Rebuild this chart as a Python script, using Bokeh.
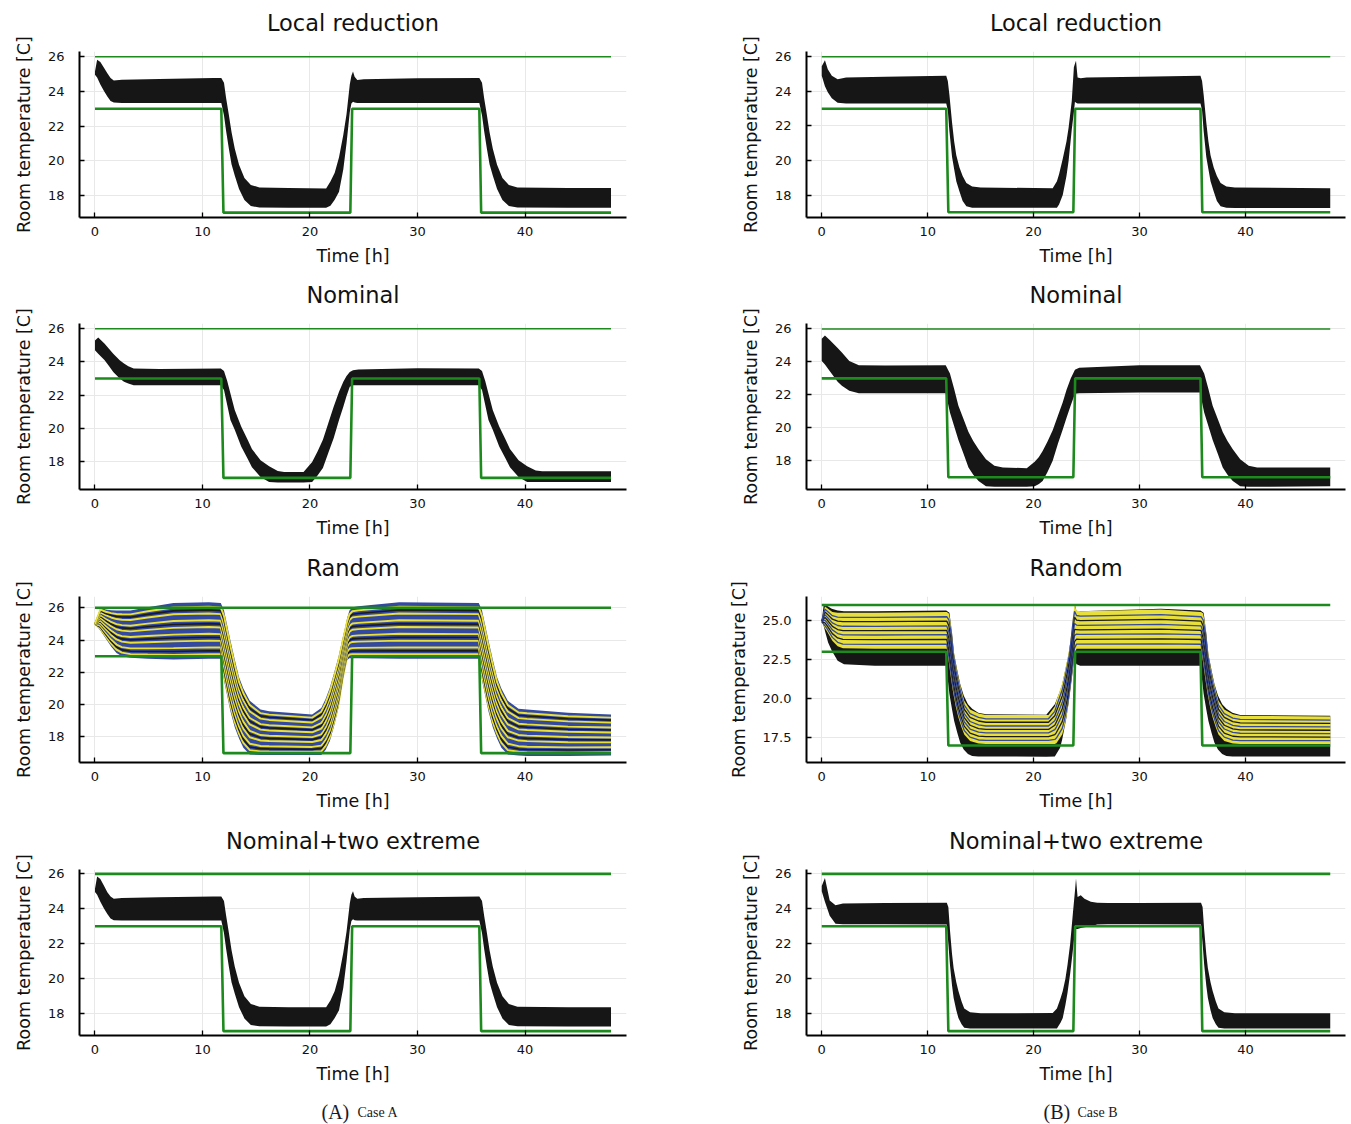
import numpy as np
from bokeh.plotting import figure
from bokeh.layouts import column, row
from bokeh.models import Label, NumeralTickFormatter
from bokeh.embed import file_html
from bokeh.resources import INLINE

# ---------------- data ----------------
TIME_TICKS = [0, 10, 20, 30, 40]
TEMP_TICKS = [18, 20, 22, 24, 26]
TEMP_TICKS_B_RANDOM = [17.5, 20.0, 22.5, 25.0]
TITLES = ["Local reduction", "Nominal", "Random", "Nominal+two extreme"]

BOUND_UPPER_T = [0, 48]
BOUND_UPPER = [26, 26]
BOUND_LOWER_T = [0, 11.75, 11.95, 23.75, 23.92, 35.75, 35.92, 48]
BOUND_LOWER = [23, 23, 17, 17, 23, 23, 17, 17]

# Case A - Local reduction (envelope of all trajectories)
A_LOCAL_T = [0, 0.2, 0.5, 0.85, 1.15, 1.45, 1.75, 2.5, 6, 11.0, 11.75,
             12.0, 12.2, 12.45, 12.7, 13.0, 13.4, 13.9, 14.5, 15.3, 18.0,
             21.5, 21.9, 22.3, 22.7, 23.1, 23.4, 23.7, 23.85, 24.0, 24.15, 24.4, 25.0,
             30.0, 35.75, 36.0, 36.2, 36.45, 36.7, 37.0, 37.4, 37.9, 38.5, 39.3, 44.0, 48.0]
A_LOCAL_HI = [25.15, 25.83, 25.7, 25.35, 25.05, 24.77, 24.62, 24.67, 24.72, 24.77, 24.77,
              24.5, 23.6, 22.65, 21.65, 20.7, 19.77, 19.0, 18.6, 18.45, 18.42,
              18.4, 18.8, 19.3, 20.2, 21.5, 22.7, 24.4, 24.9, 25.15, 24.85, 24.65, 24.7,
              24.75, 24.77, 24.5, 23.6, 22.65, 21.65, 20.7, 19.77, 19.0, 18.6, 18.45, 18.42, 18.42]
A_LOCAL_LO = [24.96, 24.8, 24.4, 24.0, 23.7, 23.45, 23.35, 23.33, 23.33, 23.33, 23.33,
              22.6, 21.7, 20.7, 19.8, 19.15, 18.37, 17.73, 17.38, 17.3, 17.28,
              17.28, 17.4, 17.75, 18.2, 19.5, 21.0, 22.8, 23.3, 23.4, 23.35, 23.33, 23.33,
              23.33, 23.33, 22.6, 21.7, 20.7, 19.8, 19.15, 18.37, 17.73, 17.38, 17.3, 17.28, 17.28]

# Case A - Nominal
A_NOM_T = [0, 0.3, 0.9, 1.3, 1.7, 2.3, 2.7, 3.1, 3.6, 6, 11.7,
           12.0, 12.3, 12.6, 13.0, 13.6, 14.2, 14.6, 15.4, 16.2, 17.0, 17.6,
           19.4, 20.2, 20.7, 21.2, 21.7, 22.2, 22.7, 23.1, 23.4, 23.7, 24.0, 24.5,
           30.0, 35.7, 36.0, 36.3, 36.6, 37.0, 37.6, 38.2, 38.6, 39.4, 40.2, 41.0, 41.6, 48.0]
A_NOM_HI = [25.3, 25.48, 25.1, 24.8, 24.5, 24.1, 23.9, 23.74, 23.6, 23.58, 23.6,
            23.45, 22.85, 22.1, 21.1, 20.1, 19.3, 18.75, 18.06, 17.7, 17.42, 17.35,
            17.35, 17.96, 18.6, 19.3, 20.3, 21.3, 22.2, 22.8, 23.15, 23.4, 23.5, 23.55,
            23.62, 23.6, 23.45, 22.85, 22.1, 21.1, 20.1, 19.3, 18.75, 18.06, 17.7, 17.45, 17.4, 17.4]
A_NOM_LO = [24.7, 24.5, 24.1, 23.75, 23.4, 23.0, 22.8, 22.7, 22.6, 22.6, 22.6,
            22.3, 21.4, 20.5, 19.9, 18.9, 18.15, 17.65, 17.05, 16.75, 16.72, 16.72,
            16.72, 16.75, 17.15, 17.6, 18.5, 19.4, 20.5, 21.3, 21.95, 22.5, 22.6, 22.6,
            22.6, 22.6, 22.3, 21.4, 20.5, 19.9, 18.9, 18.15, 17.65, 17.05, 16.75, 16.75, 16.75, 16.75]

# Case A - Random (outer envelope, blue)
A_RAND_T = [0, 0.5, 1.0, 1.5, 2.0, 2.5, 3.3, 4.9, 7.3, 10.6, 11.7,
            12.0, 12.3, 12.6, 13.0, 13.4, 13.8, 14.4, 15.4, 16.2, 20.2,
            21.05, 21.45, 21.85, 22.25, 22.66, 23.06, 23.27, 23.45, 23.67, 23.95, 24.5,
            28.3, 35.7, 36.0, 36.3, 36.6, 37.0, 37.4, 37.8, 38.4, 39.4, 40.2, 44.0, 48.0]
A_RAND_HI = [25.0, 26.0, 25.9, 25.85, 25.83, 25.83, 25.83, 26.04, 26.3, 26.35, 26.3,
             25.83, 24.9, 23.97, 22.8, 21.7, 21.0, 20.24, 19.7, 19.6, 19.4,
             19.8, 20.35, 21.07, 22.0, 23.0, 24.2, 24.8, 25.35, 25.83, 26.04, 26.1,
             26.35, 26.3, 25.83, 24.9, 23.97, 22.8, 21.7, 21.0, 20.24, 19.75, 19.7, 19.5, 19.4]
A_RAND_LO = [25.0, 24.6, 24.1, 23.6, 23.2, 23.0, 22.9, 22.85, 22.8, 22.85, 22.85,
             21.5, 20.55, 19.6, 18.6, 17.9, 17.34, 16.92, 16.88, 16.88, 16.88,
             16.88, 17.2, 17.75, 18.7, 19.82, 21.5, 22.2, 22.75, 22.87, 22.87, 22.87,
             22.85, 22.85, 21.5, 20.55, 19.6, 18.6, 17.9, 17.34, 16.92, 16.85, 16.82, 16.82, 16.85]
# relative level of the individual random trajectories inside the envelope
A_RAND_LEVELS = [0.08, 0.14, 0.2, 0.26, 0.32, 0.38, 0.44, 0.5, 0.56, 0.62,
                 0.68, 0.74, 0.8, 0.86, 0.92]

# Case A - Nominal + two extreme
A_EXT_T = A_LOCAL_T
A_EXT_HI = [25.15, 25.85, 25.7, 25.3, 24.95, 24.7, 24.58, 24.62, 24.66, 24.7, 24.7,
            24.45, 23.6, 22.65, 21.65, 20.7, 19.77, 19.0, 18.55, 18.4, 18.37,
            18.37, 18.75, 19.3, 20.2, 21.5, 22.7, 24.3, 24.8, 25.0, 24.7, 24.58, 24.62,
            24.66, 24.7, 24.45, 23.6, 22.65, 21.65, 20.7, 19.77, 19.0, 18.55, 18.4, 18.37, 18.37]
A_EXT_LO = [24.96, 24.8, 24.4, 24.0, 23.7, 23.45, 23.35, 23.33, 23.33, 23.33, 23.33,
            22.6, 21.7, 20.7, 19.8, 19.15, 18.37, 17.73, 17.35, 17.28, 17.27,
            17.27, 17.4, 17.75, 18.2, 19.5, 21.0, 22.8, 23.3, 23.4, 23.35, 23.33, 23.33,
            23.33, 23.33, 22.6, 21.7, 20.7, 19.8, 19.15, 18.37, 17.73, 17.35, 17.28, 17.27, 17.27]

# Case B - Local reduction
B_LOCAL_T = [0, 0.3, 0.57, 0.95, 1.5, 2.3, 6, 11.75,
             11.9, 12.05, 12.3, 12.5, 12.7, 13.0, 13.3, 13.65, 14.2, 15.0,
             21.8, 22.2, 22.4, 22.75, 23.1, 23.3, 23.6, 23.8, 23.9, 24.0, 24.15, 24.45, 25.0,
             30.0, 35.75, 35.9, 36.05, 36.3, 36.5, 36.7, 37.0, 37.3, 37.65, 38.2, 39.0, 48.0]
B_LOCAL_HI = [25.45, 25.8, 25.28, 24.9, 24.7, 24.8, 24.85, 24.9,
              24.6, 23.8, 22.2, 21.1, 20.3, 19.6, 19.1, 18.7, 18.5, 18.43,
              18.4, 18.8, 19.2, 20.1, 21.1, 21.9, 23.45, 25.4, 25.6, 25.77, 24.8, 24.76, 24.8,
              24.85, 24.9, 24.6, 23.8, 22.2, 21.1, 20.3, 19.6, 19.1, 18.7, 18.5, 18.43, 18.4]
B_LOCAL_LO = [24.9, 24.3, 23.95, 23.6, 23.35, 23.3, 23.3, 23.3,
              22.9, 21.7, 20.2, 19.5, 18.8, 18.2, 17.65, 17.35, 17.27, 17.27,
              17.27, 17.27, 17.45, 18.0, 19.1, 19.97, 21.8, 22.8, 23.4, 23.35, 23.3, 23.3, 23.3,
              23.3, 23.3, 22.9, 21.7, 20.2, 19.5, 18.8, 18.2, 17.65, 17.35, 17.27, 17.25, 17.25]

# Case B - Nominal
B_NOM_T = [0, 0.3, 0.8, 1.5, 1.9, 2.6, 3.5, 6, 11.7,
           12.1, 12.5, 12.9, 13.4, 13.85, 14.3, 14.8, 15.5, 16.3, 17.1,
           19.35, 20.1, 20.5, 20.85, 21.3, 21.8, 22.3, 22.75, 23.1, 23.5, 23.9, 24.3,
           30.0, 35.7, 36.1, 36.5, 36.9, 37.4, 37.85, 38.3, 38.8, 39.5, 40.3, 41.1, 48.0]
B_NOM_HI = [25.4, 25.6, 25.3, 24.85, 24.57, 24.05, 23.8, 23.78, 23.8,
            23.3, 22.35, 21.34, 20.5, 19.75, 19.2, 18.7, 18.1, 17.7, 17.6,
            17.55, 17.95, 18.23, 18.6, 19.15, 19.85, 20.75, 21.55, 22.3, 23.0, 23.53, 23.65,
            23.8, 23.8, 23.3, 22.35, 21.34, 20.5, 19.75, 19.2, 18.7, 18.1, 17.7, 17.6, 17.6]
B_NOM_LO = [24.05, 23.85, 23.4, 22.8, 22.55, 22.25, 22.1, 22.1, 22.1,
            20.93, 20.1, 19.27, 18.4, 17.6, 17.15, 16.77, 16.46, 16.42, 16.42,
            16.42, 16.45, 16.6, 16.77, 17.3, 18.0, 19.05, 19.9, 20.6, 21.35, 22.07, 22.1,
            22.15, 22.15, 20.93, 20.1, 19.27, 18.4, 17.6, 17.15, 16.77, 16.46, 16.42, 16.42, 16.45]

# Case B - Random: outer envelope (black) and inner bundle (yellow)
B_RAND_T = [0, 0.2, 0.38, 0.6, 0.95, 1.5, 2.1, 5, 11.75,
            12.05, 12.3, 12.5, 12.8, 13.07, 13.4, 13.8, 14.2, 14.77, 15.5,
            21.2, 22.0, 22.5, 22.7, 23.1, 23.3, 23.5, 23.7, 23.8, 23.9, 24.05, 24.4,
            32.0, 35.75, 36.05, 36.3, 36.5, 36.8, 37.07, 37.4, 37.8, 38.2, 38.77, 39.5, 48.0]
B_RAND_HI = [25.0, 26.07, 26.0, 25.9, 25.75, 25.64, 25.6, 25.6, 25.65,
             25.5, 24.2, 22.86, 21.8, 20.93, 20.2, 19.64, 19.35, 19.1, 19.0,
             18.96, 19.64, 20.5, 20.93, 22.2, 22.86, 23.8, 24.79, 25.3, 26.0, 25.6, 25.6,
             25.75, 25.65, 25.5, 24.2, 22.86, 21.8, 20.93, 20.2, 19.64, 19.35, 19.1, 18.95, 18.9]
B_RAND_LO = [25.0, 24.6, 24.14, 23.6, 23.07, 22.43, 22.2, 22.1, 22.1,
             20.29, 19.3, 18.57, 17.8, 17.18, 16.75, 16.45, 16.32, 16.3, 16.3,
             16.28, 16.3, 16.86, 17.4, 18.79, 19.7, 20.71, 21.8, 22.43, 22.4, 22.2, 22.1,
             22.1, 22.1, 20.29, 19.3, 18.57, 17.8, 17.18, 16.75, 16.45, 16.32, 16.3, 16.3, 16.3]
B_RAND_IN_T = [0, 0.3, 0.5, 1.0, 1.5, 2.0, 5, 11.8,
               12.0, 12.2, 12.4, 12.65, 12.9, 13.2, 13.45, 14.0, 14.8, 15.5,
               21.4, 22.0, 22.15, 22.7, 22.9, 23.2, 23.4, 23.55, 23.7, 23.86, 24.05, 24.4,
               32.0, 35.8, 36.0, 36.2, 36.4, 36.65, 36.9, 37.2, 37.45, 38.0, 38.8, 39.5, 48.0]
B_RAND_IN_HI = [25.0, 25.9, 25.8, 25.55, 25.5, 25.5, 25.5, 25.55,
                25.45, 24.7, 23.3, 22.2, 21.36, 20.5, 19.86, 19.3, 19.05, 18.95,
                18.95, 19.5, 19.86, 21.0, 21.57, 22.6, 23.3, 24.2, 25.2, 26.0, 25.64, 25.6,
                25.7, 25.55, 25.45, 24.7, 23.3, 22.2, 21.36, 20.5, 19.86, 19.3, 19.0, 18.9, 18.85]
B_RAND_IN_LO = [24.9, 24.5, 24.3, 23.7, 23.35, 23.22, 23.2, 23.2,
                22.3, 21.3, 20.4, 19.5, 18.79, 18.15, 17.7, 17.29, 17.12, 17.1,
                17.1, 17.1, 17.15, 17.7, 18.2, 19.2, 20.3, 21.14, 22.0, 22.86, 23.2, 23.2,
                23.2, 23.2, 22.3, 21.3, 20.4, 19.5, 18.79, 18.15, 17.7, 17.29, 17.12, 17.1, 17.1]
B_RAND_LEVELS = [0.12, 0.25, 0.38, 0.5, 0.62, 0.75, 0.87]

# Case B - Nominal + two extreme
B_EXT_T = [0, 0.3, 0.75, 1.3, 2.0, 6, 11.8,
           11.95, 12.1, 12.3, 12.45, 12.7, 12.9, 13.2, 13.45, 14.0, 15.0,
           21.8, 22.2, 22.55, 22.75, 23.0, 23.2, 23.45, 23.7, 23.9, 24.0, 24.15, 24.45, 24.8, 25.4, 26.0, 27.0,
           30.0, 35.8, 35.95, 36.1, 36.3, 36.45, 36.7, 36.9, 37.2, 37.45, 38.0, 39.0, 48.0]
B_EXT_HI = [25.3, 25.77, 24.48, 24.2, 24.3, 24.33, 24.35,
            24.1, 22.8, 21.4, 20.6, 19.8, 19.3, 18.7, 18.3, 18.08, 18.02,
            18.04, 18.3, 18.9, 19.3, 20.0, 20.8, 22.0, 23.7, 25.0, 25.73, 24.67, 24.77, 24.58, 24.4, 24.35, 24.33,
            24.33, 24.35, 24.1, 22.8, 21.4, 20.6, 19.8, 19.3, 18.7, 18.3, 18.08, 18.02, 18.02]
B_EXT_LO = [25.0, 24.4, 23.6, 23.15, 23.12, 23.12, 23.1,
            22.0, 20.8, 19.6, 18.9, 18.2, 17.75, 17.4, 17.2, 17.15, 17.15,
            17.15, 17.15, 17.5, 17.75, 18.5, 19.2, 20.3, 21.6, 22.75, 22.85, 22.85, 22.9, 22.95, 23.0, 23.1, 23.12,
            23.12, 23.1, 22.0, 20.8, 19.6, 18.9, 18.2, 17.75, 17.4, 17.2, 17.15, 17.15, 17.15]

# ---------------- style ----------------
FONT = "DejaVu Sans"
BAND = "#161616"
GREEN = "#1c8a1c"
YELLOW = "#e8df3a"
BLUE = "#3449a0"
DARK = "#1c1c1c"
GRID = "#e8e8e8"
LEFT_W, RIGHT_W = 646, 705
ROW_BOTTOM = [55, 56, 56, 63]


def make_fig(yr, left_col, row_i, yticks, fmt=None):
    if left_col:
        mbl, fw, mbr = 79, 547, 20
    else:
        mbl, fw, mbr = 160, 539, 6
    p = figure(frame_width=fw, frame_height=166, min_border_left=mbl,
               min_border_right=mbr, min_border_top=15, min_border_bottom=ROW_BOTTOM[row_i],
               x_range=(-1.44, 49.44), y_range=yr, output_backend="svg",
               toolbar_location=None)
    p.outline_line_color = None
    p.background_fill_color = "white"
    p.border_fill_color = "white"
    for ax in (p.xaxis[0], p.yaxis[0]):
        ax.axis_line_width = 2
        ax.axis_line_color = "black"
        ax.major_tick_in = 5
        ax.major_tick_out = 0
        ax.major_tick_line_width = 1.3
        ax.minor_tick_line_color = None
        ax.major_label_text_font = FONT
        ax.major_label_text_font_size = "13px"
        ax.major_label_text_color = "#111111"
        ax.axis_label_text_font = FONT
        ax.axis_label_text_font_size = "17.5px"
        ax.axis_label_text_font_style = "normal"
        ax.axis_label_text_color = "#111111"
    p.xaxis.ticker = TIME_TICKS
    p.yaxis.ticker = yticks
    if fmt:
        p.yaxis.formatter = NumeralTickFormatter(format=fmt)
    p.xaxis.axis_label = "Time [h]"
    p.yaxis.axis_label = "Room temperature [C]"
    p.xaxis.major_label_standoff = 9
    p.yaxis.major_label_standoff = 15
    p.xaxis.axis_label_standoff = 7
    p.yaxis.axis_label_standoff = 11
    p.xgrid.grid_line_color = GRID
    p.ygrid.grid_line_color = GRID
    return p


def add_bounds(p, thick):
    up_w = 2.6 if thick else 1.5
    p.line(BOUND_UPPER_T, BOUND_UPPER, line_color=GREEN, line_width=up_w)
    p.line(BOUND_LOWER_T, BOUND_LOWER, line_color=GREEN, line_width=2.6)


def band_panel(t, hi, lo, yr, left_col, row_i, thick):
    p = make_fig(yr, left_col, row_i, TEMP_TICKS)
    p.varea(x=t, y1=lo, y2=hi, fill_color=BAND)
    add_bounds(p, thick)
    return p


def rand_lines(t, hi, lo, levels):
    hi_a, lo_a = np.array(hi), np.array(lo)
    return [list(t) for _ in levels], [list(lo_a + f * (hi_a - lo_a)) for f in levels]


def strip(width, height):
    c = figure(width=width, height=height, min_border=0, x_range=(0, width), y_range=(0, height),
               x_axis_location=None, y_axis_location=None, output_backend="svg",
               toolbar_location=None)
    c.outline_line_color = None
    c.grid.visible = False
    return c


def title_strip(width, center_x, text):
    c = strip(width, 36)
    c.add_layout(Label(x=center_x, y=14, text=text, text_font=FONT, text_font_size="22.5px",
                       text_align="center", text_baseline="middle", text_color="#111111"))
    return c


# ---- Case A ----
a1 = band_panel(A_LOCAL_T, A_LOCAL_HI, A_LOCAL_LO, (16.72, 26.3), True, 0, False)
a2 = band_panel(A_NOM_T, A_NOM_HI, A_NOM_LO, (16.3, 26.32), True, 1, False)

a3 = make_fig((16.42, 26.7), True, 2, TEMP_TICKS)
a3.varea(x=A_RAND_T, y1=A_RAND_LO, y2=A_RAND_HI, fill_color=BLUE)
xs, ys = rand_lines(A_RAND_T, A_RAND_HI, A_RAND_LO, A_RAND_LEVELS)
cols_a = [YELLOW if i % 2 == 0 else (DARK if i % 4 == 1 else BLUE) for i in range(len(A_RAND_LEVELS))]
wid_a = [1.9 if c == YELLOW else 1.6 for c in cols_a]
a3.multi_line(xs=xs, ys=ys, line_color=cols_a, line_width=wid_a)
add_bounds(a3, True)

a4 = band_panel(A_EXT_T, A_EXT_HI, A_EXT_LO, (16.75, 26.25), True, 3, True)

# ---- Case B ----
b1 = band_panel(B_LOCAL_T, B_LOCAL_HI, B_LOCAL_LO, (16.7, 26.31), False, 0, False)
b2 = band_panel(B_NOM_T, B_NOM_HI, B_NOM_LO, (16.26, 26.33), False, 1, False)

b3 = make_fig((15.91, 26.54), False, 2, TEMP_TICKS_B_RANDOM, fmt="0.0")
b3.varea(x=B_RAND_T, y1=B_RAND_LO, y2=B_RAND_HI, fill_color=BAND)
b3.varea(x=B_RAND_IN_T, y1=B_RAND_IN_LO, y2=B_RAND_IN_HI, fill_color=YELLOW)
xs, ys = rand_lines(B_RAND_IN_T, B_RAND_IN_HI, B_RAND_IN_LO, B_RAND_LEVELS)
cols_b = [BLUE if i % 2 == 0 else DARK for i in range(len(B_RAND_LEVELS))]
b3.multi_line(xs=xs, ys=ys, line_color=cols_b, line_width=1.3)
add_bounds(b3, True)

b4 = band_panel(B_EXT_T, B_EXT_HI, B_EXT_LO, (16.75, 26.25), False, 3, True)


# ---- captions below the two columns ----
def caption_fig(width, letter, case, x_letter, x_case):
    c = strip(width, 26)
    c.add_layout(Label(x=x_letter, y=12.5, text=letter, text_font="Liberation Serif",
                       text_font_size="20px", text_baseline="middle", text_color="#1a1a2a"))
    c.add_layout(Label(x=x_case, y=12, text=case, text_font="Liberation Serif",
                       text_font_size="14px", text_baseline="middle", text_color="#1a1a1a"))
    return c


cap_a = caption_fig(LEFT_W, "(A)", "Case A", 321, 357)
cap_b = caption_fig(RIGHT_W, "(B)", "Case B", 397, 431)

items = []
for title, fa, fb in zip(TITLES, (a1, a2, a3, a4), (b1, b2, b3, b4)):
    items.append(row(title_strip(LEFT_W, 79 + 547 / 2, title),
                     title_strip(RIGHT_W, 160 + 539 / 2, title)))
    items.append(row(fa, fb))
items.append(row(cap_a, cap_b))

layout = column(*items)
open("out.html", "w").write(file_html(layout, INLINE))
